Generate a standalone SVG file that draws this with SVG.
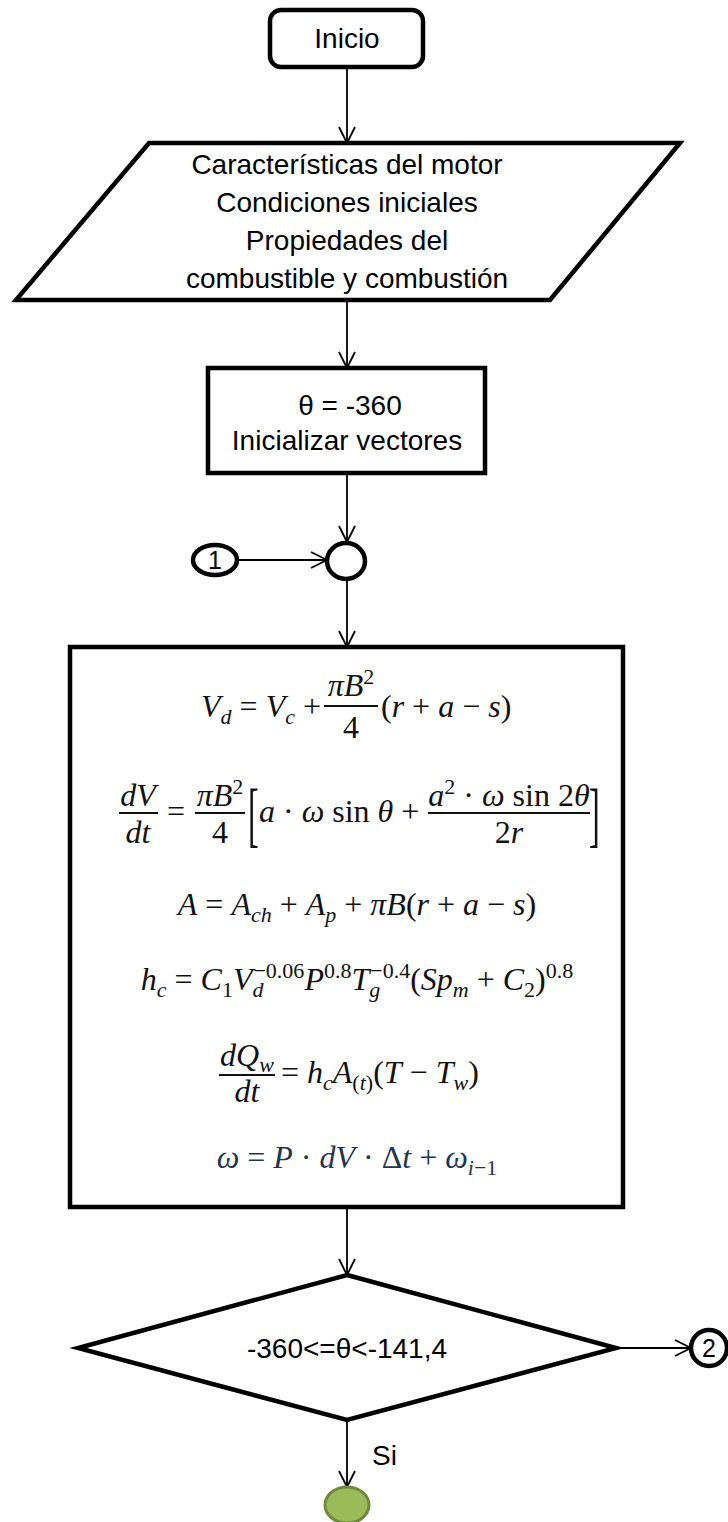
<svg xmlns="http://www.w3.org/2000/svg" width="728" height="1522" viewBox="0 0 728 1522">
<defs>
<style>
.sh{fill:#fff;stroke:#000;stroke-width:4.5;stroke-linejoin:miter}
.cn{fill:none;stroke:#000;stroke-width:1.8;marker-end:url(#ah)}
.t{font-family:"Liberation Sans",Arial,sans-serif;font-size:28px;fill:#000;text-anchor:middle}
.m{font-family:"Liberation Serif","Times New Roman",serif;font-size:32px;font-style:italic;fill:#111}
.u{font-style:normal}
.s{font-size:22px}
.fb{stroke:#111;stroke-width:1.8}
.br{font-family:"Liberation Serif","Times New Roman",serif;font-size:72px;fill:#111}
</style>
<marker id="ah" viewBox="0 0 18 18" refX="17" refY="9" markerWidth="18" markerHeight="18" markerUnits="userSpaceOnUse" orient="auto">
<path d="M1,1 L17,9 L1,17" fill="none" stroke="#000" stroke-width="1.8"/>
</marker>
</defs>
<rect width="728" height="1522" fill="#fff"/>
<g id="connectors">
<line class="cn" x1="347" y1="67" x2="347" y2="143"/>
<line class="cn" x1="347" y1="300" x2="347" y2="368"/>
<line class="cn" x1="347" y1="473" x2="347" y2="542"/>
<line class="cn" x1="238" y1="560" x2="327" y2="560"/>
<line class="cn" x1="347" y1="580" x2="347" y2="647"/>
<line class="cn" x1="347" y1="1207" x2="347" y2="1275"/>
<line class="cn" x1="616" y1="1348" x2="691" y2="1348"/>
<line class="cn" x1="347" y1="1420" x2="347" y2="1487"/>
<text class="t" x="372" y="1465" style="text-anchor:start">Si</text>
</g>
<g id="inicio">
<rect class="sh" x="270" y="10" width="153" height="57" rx="11" stroke-width="4"/>
<text class="t" x="347" y="48">Inicio</text>
</g>
<g id="entrada">
<polygon class="sh" points="149,143 680,143 550,300 16,300" stroke-width="5"/>
<text class="t" x="347" y="174">Características del motor</text>
<text class="t" x="347" y="212">Condiciones iniciales</text>
<text class="t" x="347" y="250">Propiedades del</text>
<text class="t" x="347" y="288">combustible y combustión</text>
</g>
<g id="inicializar">
<rect class="sh" x="208" y="368" width="277" height="105"/>
<text class="t" x="350" y="415">θ = -360</text>
<text class="t" x="347" y="450">Inicializar vectores</text>
</g>
<g id="conector-1">
<ellipse class="sh" cx="215" cy="560" rx="22" ry="15" stroke-width="3.5"/>
<text class="t" x="215" y="569" style="font-size:25px">1</text>
</g>
<g id="union">
<ellipse class="sh" cx="346" cy="561" rx="19" ry="18" stroke-width="3.5"/>
</g>
<g id="calculos">
<rect class="sh" x="70" y="647" width="553" height="560" stroke-width="5"/>
<text class="m" x="321" y="717" text-anchor="end">V<tspan class="s" dy="7">d</tspan><tspan class="u" dy="-7"> = </tspan>V<tspan class="s" dy="7">c</tspan><tspan class="u" dy="-7"> +</tspan></text>
<text class="m" x="351" y="696" text-anchor="middle">πB<tspan class="s u" dy="-12">2</tspan></text>
<line class="fb" x1="324" y1="706" x2="378" y2="706"/>
<text class="m u" x="351" y="738" text-anchor="middle">4</text>
<text class="m" x="381" y="717"><tspan class="u">(</tspan>r<tspan class="u"> + </tspan>a<tspan class="u"> − </tspan>s<tspan class="u">)</tspan></text>
<text class="m" x="138" y="806" text-anchor="middle">dV</text>
<line class="fb" x1="119" y1="813" x2="158" y2="813"/>
<text class="m" x="138" y="843" text-anchor="middle">dt</text>
<text class="m u" x="176" y="822" text-anchor="middle">=</text>
<text class="m" x="220" y="806" text-anchor="middle">πB<tspan class="s u" dy="-12">2</tspan></text>
<line class="fb" x1="195" y1="813" x2="245" y2="813"/>
<text class="m u" x="220" y="843" text-anchor="middle">4</text>
<text class="br" transform="translate(248,838) scale(0.45,1)">[</text>
<text class="m" x="259" y="822">a<tspan class="u"> · </tspan>ω<tspan class="u"> sin </tspan>θ<tspan class="u"> +</tspan></text>
<text class="m" x="509" y="806" text-anchor="middle">a<tspan class="s u" dy="-12">2</tspan><tspan class="u" dy="12"> · </tspan>ω<tspan class="u"> sin 2</tspan>θ</text>
<line class="fb" x1="428" y1="813" x2="590" y2="813"/>
<text class="m" x="509" y="843" text-anchor="middle"><tspan class="u">2</tspan>r</text>
<text class="br" transform="translate(589,838) scale(0.45,1)">]</text>
<text class="m" x="357" y="915" text-anchor="middle">A<tspan class="u"> = </tspan>A<tspan class="s" dy="7">ch</tspan><tspan class="u" dy="-7"> + </tspan>A<tspan class="s" dy="7">p</tspan><tspan class="u" dy="-7"> + </tspan>πB<tspan class="u">(</tspan>r<tspan class="u"> + </tspan>a<tspan class="u"> − </tspan>s<tspan class="u">)</tspan></text>
<text class="m" x="357" y="990" text-anchor="middle">h<tspan class="s" dy="7">c</tspan><tspan class="u" dy="-7"> = </tspan>C<tspan class="s u" dy="7">1</tspan><tspan dy="-7">V</tspan><tspan class="s" dy="7">d</tspan><tspan class="s u" dx="-10" dy="-19">−0.06</tspan><tspan dy="12">P</tspan><tspan class="s u" dy="-12">0.8</tspan><tspan dy="12">T</tspan><tspan class="s" dy="7">g</tspan><tspan class="s u" dx="-10" dy="-19">−0.4</tspan><tspan class="u" dy="12">(</tspan>Sp<tspan class="s" dy="7">m</tspan><tspan class="u" dy="-7"> + </tspan>C<tspan class="s u" dy="7">2</tspan><tspan class="u" dy="-7">)</tspan><tspan class="s u" dy="-12">0.8</tspan></text>
<text class="m" x="247" y="1066" text-anchor="middle">dQ<tspan class="s" dy="6">w</tspan></text>
<line class="fb" x1="219" y1="1075" x2="275" y2="1075"/>
<text class="m" x="247" y="1102" text-anchor="middle">dt</text>
<text class="m" x="281" y="1083"><tspan class="u">= </tspan>h<tspan class="s" dy="7">c</tspan><tspan dy="-7">A</tspan><tspan class="s" dy="7"><tspan class="u">(</tspan>t<tspan class="u">)</tspan></tspan><tspan class="u" dy="-7">(</tspan>T<tspan class="u"> − </tspan>T<tspan class="s" dy="7">w</tspan><tspan class="u" dy="-7">)</tspan></text>
<text class="m" x="357" y="1168" text-anchor="middle" style="fill:#1f3550">ω<tspan class="u"> = </tspan>P<tspan class="u"> · </tspan>dV<tspan class="u"> · Δ</tspan>t<tspan class="u"> + </tspan>ω<tspan class="s" dy="7">i</tspan><tspan class="s u">−1</tspan></text>
</g>
<g id="decision">
<polygon class="sh" points="347,1275 616,1348 347,1420 78,1348" stroke-width="5"/>
<text class="t" x="347" y="1358">-360&lt;=θ&lt;-141,4</text>
</g>
<g id="conector-2">
<ellipse class="sh" cx="709" cy="1348" rx="18" ry="18" stroke-width="3.5"/>
<text class="t" x="709" y="1357" style="font-size:25px">2</text>
</g>
<g id="fin-verde">
<ellipse cx="347" cy="1505" rx="22" ry="18" fill="#9bbb59" stroke="#71893f" stroke-width="3"/>
</g>
</svg>
